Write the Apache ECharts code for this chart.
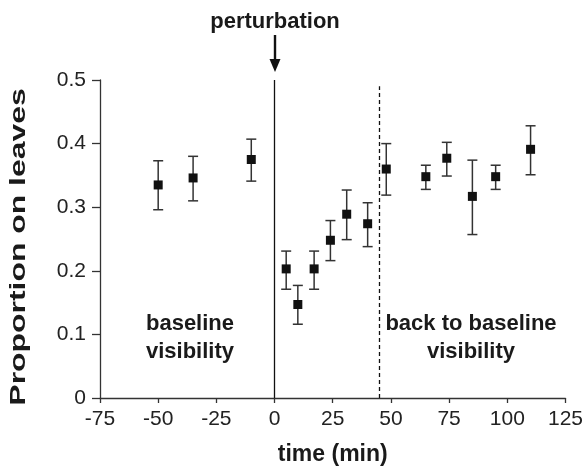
<!DOCTYPE html>
<html>
<head>
<meta charset="utf-8">
<script src="https://cdn.jsdelivr.net/npm/echarts@6/dist/echarts.min.js"></script>
<style>html,body{margin:0;padding:0;background:#fff}#c{width:586px;height:471px}</style>
</head>
<body>
<div id="c"></div>
<script>
const times = [-50, -35, -10, 5, 10, 17, 24, 31, 40, 48, 65, 74, 85, 95, 110];
const proportion = [0.335, 0.346, 0.375, 0.203, 0.147, 0.203, 0.248, 0.289, 0.274, 0.360, 0.348, 0.377, 0.317, 0.348, 0.391];
const lower = [0.296, 0.310, 0.341, 0.171, 0.116, 0.171, 0.216, 0.249, 0.238, 0.319, 0.328, 0.349, 0.257, 0.328, 0.351];
const upper = [0.373, 0.380, 0.407, 0.231, 0.177, 0.231, 0.279, 0.327, 0.307, 0.400, 0.366, 0.402, 0.374, 0.366, 0.428];
const perturbationTime = 0;
const returnTime = 45;
const xTicks = [-75, -50, -25, 0, 25, 50, 75, 100, 125];
const yTicks = [0, 0.1, 0.2, 0.3, 0.4, 0.5];

const FONT = '"Liberation Sans", Arial, sans-serif';
const chart = echarts.init(document.getElementById('c'), null, {renderer: 'canvas'});

const points = times.map((t, i) => [t, proportion[i]]);
const bars = times.map((t, i) => [t, lower[i], upper[i]]);

chart.setOption({
  animation: false,
  grid: {left: 100, right: 20, top: 80, bottom: 71},
  xAxis: {
    type: 'value', min: -75, max: 125, interval: 25,
    name: 'time (min)', nameLocation: 'middle', nameGap: 45,
    nameTextStyle: {fontFamily: FONT, fontWeight: 'bold', fontSize: 23, color: '#1a1a1a'},
    axisLine: {show: true, onZero: false, lineStyle: {color: '#333', width: 1.3}},
    axisTick: {show: true, inside: false, length: 5, lineStyle: {color: '#333', width: 1.3}},
    axisLabel: {fontFamily: FONT, fontSize: 21, color: '#222', margin: 11,
      formatter: v => xTicks.includes(v) ? String(v) : ''},
    splitLine: {show: false}
  },
  yAxis: {
    type: 'value', min: 0, max: 0.5, interval: 0.1,
    axisLine: {show: true, onZero: false, lineStyle: {color: '#333', width: 1.3}},
    axisTick: {show: true, inside: false, length: 8, lineStyle: {color: '#333', width: 1.3}},
    axisLabel: {fontFamily: FONT, fontSize: 21, color: '#222', margin: 14,
      formatter: v => { const r = Math.round(v * 10) / 10; return r === 0 ? '0' : r.toFixed(1); }},
    splitLine: {show: false}
  },
  series: [
    {
      type: 'custom',
      data: bars,
      renderItem: function (params, api) {
        const x = api.value(0);
        const lo = api.coord([x, api.value(1)]);
        const hi = api.coord([x, api.value(2)]);
        const w = 5;
        const style = {stroke: '#333', lineWidth: 1.5, fill: null};
        return {
          type: 'group',
          children: [
            {type: 'line', shape: {x1: lo[0], y1: lo[1], x2: hi[0], y2: hi[1]}, style: style},
            {type: 'line', shape: {x1: lo[0] - w, y1: lo[1], x2: lo[0] + w, y2: lo[1]}, style: style},
            {type: 'line', shape: {x1: hi[0] - w, y1: hi[1], x2: hi[0] + w, y2: hi[1]}, style: style}
          ]
        };
      },
      z: 2
    },
    {
      type: 'scatter',
      data: points,
      symbol: 'rect',
      symbolSize: 9,
      itemStyle: {color: '#111', opacity: 1},
      z: 3,
      markLine: {
        silent: true,
        symbol: ['none', 'none'],
        label: {show: false},
        animation: false,
        data: [
          [{coord: [perturbationTime, 0]}, {coord: [perturbationTime, 0.5]}],
          [{coord: [returnTime, 0], lineStyle: {type: [4, 3], color: '#111', width: 1.3}},
           {coord: [returnTime, 0.49]}]
        ],
        lineStyle: {color: '#111', width: 1.3, type: 'solid'}
      }
    }
  ],
  graphic: [
    {type: 'text', x: 275, y: 22,
      style: {text: 'perturbation', textAlign: 'center', textVerticalAlign: 'middle',
        font: 'bold 22px ' + FONT, fill: '#1a1a1a'}},
    {type: 'line', shape: {x1: 275, y1: 35, x2: 275, y2: 62}, style: {stroke: '#111', lineWidth: 2.4}},
    {type: 'polygon', shape: {points: [[269.5, 59], [280.5, 59], [275, 72]]}, style: {fill: '#111'}},
    {type: 'text', x: 19, y: 247, rotation: Math.PI / 2, scaleX: 1.45, scaleY: 1,
      style: {text: 'Proportion on leaves', textAlign: 'center', textVerticalAlign: 'middle',
        font: 'bold 22px ' + FONT, fill: '#1a1a1a'}},
    {type: 'text', x: 190, y: 338,
      style: {text: 'baseline\nvisibility', textAlign: 'center', textVerticalAlign: 'middle',
        font: 'bold 22px ' + FONT, lineHeight: 28, fill: '#1a1a1a'}},
    {type: 'text', x: 471, y: 338,
      style: {text: 'back to baseline\nvisibility', textAlign: 'center', textVerticalAlign: 'middle',
        font: 'bold 22px ' + FONT, lineHeight: 28, fill: '#1a1a1a'}}
  ]
});
</script>
</body>
</html>
